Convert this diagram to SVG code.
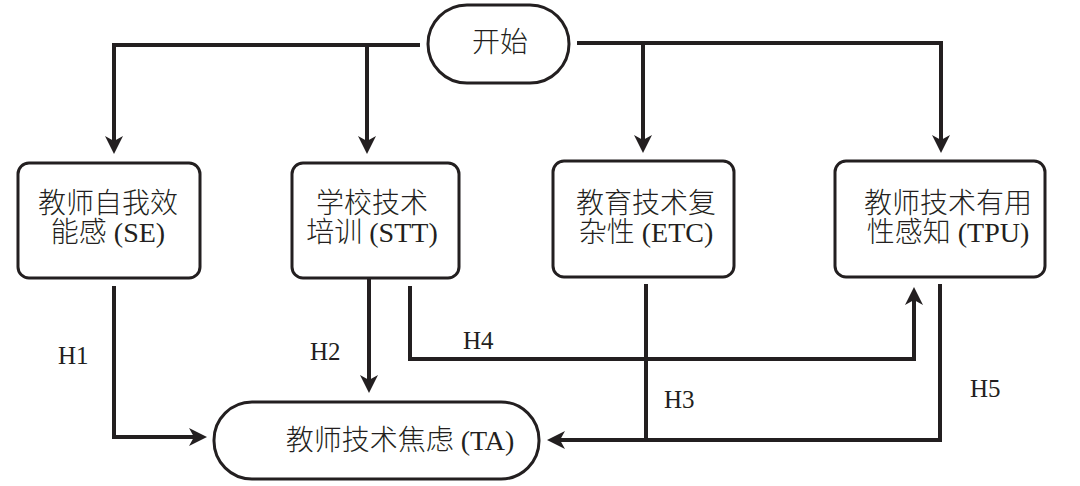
<svg xmlns="http://www.w3.org/2000/svg" width="1080" height="486" viewBox="0 0 1080 486">
<style>
.node{fill:#fff;stroke:#231f20;stroke-width:3}
.t{font-family:"Liberation Serif","Noto Sans CJK SC",serif;font-size:28px;font-weight:300;fill:#231f20;text-anchor:middle}
.h{font-family:"Liberation Serif",serif;font-size:25px;fill:#231f20}
.c{fill:none;stroke:#231f20;stroke-width:4;stroke-linejoin:miter}
.a{marker-end:url(#arr)}
</style>
<defs>
<marker id="arr" viewBox="0 0 18 18" refX="10" refY="9" markerWidth="18" markerHeight="18" markerUnits="userSpaceOnUse" orient="auto">
<path d="M0,0 L18,9 L0,18 L5,9 Z" fill="#231f20"/>
</marker>
</defs>
<rect width="1080" height="486" fill="#fff"/>
<g id="connectors">
<path class="c a" d="M420,45 H114 V146"/>
<path class="c a" d="M367,45 V146"/>
<path class="c a" d="M577,43 H941 V145"/>
<path class="c a" d="M643,43 V145"/>
<path class="c a" d="M114,286 V437 H199"/>
<path class="c a" d="M369,278 V385"/>
<path class="c a" d="M410,286 V359 H914 V295"/>
<path class="c" d="M646,284 V440"/>
<path class="c a" d="M940,284 V440 H555"/>
<text class="h" x="58" y="364">H1</text>
<text class="h" x="310" y="360">H2</text>
<text class="h" x="664" y="408">H3</text>
<text class="h" x="463" y="349">H4</text>
<text class="h" x="970" y="397">H5</text>
</g>
<g id="start">
<rect class="node" x="428" y="5" width="141" height="78" rx="39"/>
<text class="t" x="500" y="52">开始</text>
</g>
<g id="se">
<rect class="node" x="18" y="163" width="182" height="115" rx="11"/>
<text class="t" x="108" y="213">教师自我效</text>
<text class="t" x="108" y="242">能感 (SE)</text>
</g>
<g id="stt">
<rect class="node" x="292" y="163" width="167" height="115" rx="11"/>
<text class="t" x="372" y="213">学校技术</text>
<text class="t" x="372" y="242">培训 (STT)</text>
</g>
<g id="etc">
<rect class="node" x="553" y="161" width="181" height="116" rx="11"/>
<text class="t" x="646" y="213">教育技术复</text>
<text class="t" x="646" y="242">杂性 (ETC)</text>
</g>
<g id="tpu">
<rect class="node" x="835" y="161" width="210" height="116" rx="11"/>
<text class="t" x="948" y="213">教师技术有用</text>
<text class="t" x="948" y="242">性感知 (TPU)</text>
</g>
<g id="ta">
<rect class="node" x="214" y="402" width="325" height="77" rx="38"/>
<text class="t" x="400" y="450">教师技术焦虑 (TA)</text>
</g>
</svg>
